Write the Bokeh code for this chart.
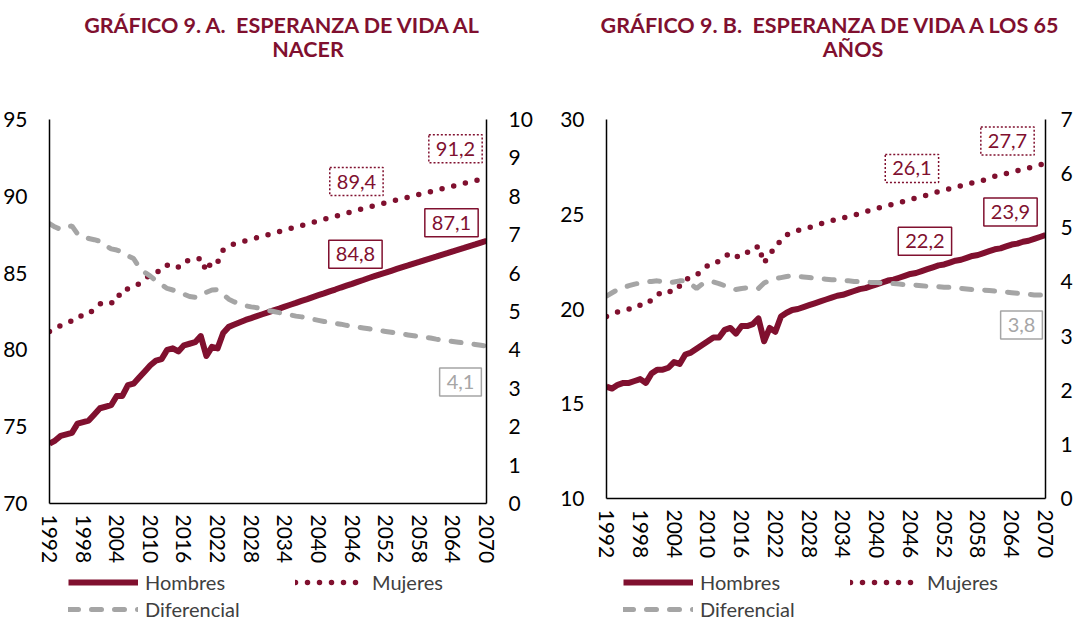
from bokeh.plotting import figure
from bokeh.models import (Range1d, LinearAxis, FixedTicker, Label, Legend,
                          LegendItem, Div, Spacer)
from bokeh.layouts import row, column
from bokeh.embed import file_html
from bokeh.resources import INLINE

# ---------------- data ----------------
YEARS = list(range(1992, 2071))
YEAR_TICKS = [1992, 1998, 2004, 2010, 2016, 2022, 2028, 2034, 2040, 2046,
              2052, 2058, 2064, 2070]

TITLE_A = ["GRÁFICO 9. A.\u00a0 ESPERANZA DE VIDA AL", "NACER"]
TITLE_B = ["GRÁFICO 9. B.\u00a0 ESPERANZA DE VIDA A LOS 65", "AÑOS"]
SERIES_NAMES = ["Hombres", "Mujeres", "Diferencial"]

# Esperanza de vida al nacer
HOMBRES_A = [73.9, 74.1, 74.4, 74.5, 74.6, 75.2, 75.3, 75.4, 75.8, 76.2,
             76.3, 76.4, 77.0, 77.0, 77.7, 77.8, 78.2, 78.6, 79.0, 79.3,
             79.4, 80.0, 80.1, 79.9, 80.3, 80.4, 80.5, 80.9, 79.6, 80.2,
             80.1, 81.1, 81.5, 81.65, 81.8, 81.95, 82.07, 82.2, 82.32, 82.44,
             82.57, 82.69, 82.82, 82.94, 83.06, 83.19, 83.31, 83.44, 83.56, 83.68,
             83.81, 83.93, 84.06, 84.18, 84.3, 84.43, 84.55, 84.68, 84.8, 84.92,
             85.03, 85.15, 85.27, 85.39, 85.5, 85.62, 85.73, 85.85, 85.96, 86.07,
             86.19, 86.3, 86.42, 86.53, 86.64, 86.76, 86.87, 86.99, 87.1]
MUJERES_A = [81.2, 81.3, 81.6, 81.7, 81.9, 82.2, 82.2, 82.3, 82.7, 83.0,
             83.0, 83.0, 83.6, 83.5, 84.0, 84.1, 84.3, 84.6, 84.9, 85.1,
             85.1, 85.5, 85.6, 85.4, 85.8, 85.8, 85.8, 86.0, 85.1, 85.8,
             85.7, 86.5, 86.75, 86.9, 87.0, 87.1, 87.2, 87.3, 87.4, 87.5,
             87.6, 87.7, 87.8, 87.9, 88.0, 88.1, 88.2, 88.3, 88.4, 88.5,
             88.6, 88.7, 88.8, 88.9, 89.0, 89.1, 89.2, 89.3, 89.4, 89.49,
             89.58, 89.67, 89.76, 89.85, 89.94, 90.03, 90.12, 90.21, 90.3, 90.39,
             90.48, 90.57, 90.66, 90.75, 90.84, 90.93, 91.02, 91.11, 91.2]
DIFERENCIAL_A = [7.29, 7.2, 7.14, 7.2, 7.23, 7.02, 6.95, 6.9, 6.87, 6.83,
                 6.72, 6.63, 6.6, 6.55, 6.45, 6.38, 6.15, 6.02, 5.92, 5.8,
                 5.7, 5.6, 5.56, 5.5, 5.45, 5.39, 5.37, 5.4, 5.5, 5.56,
                 5.57, 5.45, 5.32, 5.25, 5.19, 5.15, 5.12, 5.1, 5.06, 5.03,
                 5.0, 4.97, 4.94, 4.91, 4.88, 4.86, 4.83, 4.8, 4.77, 4.74,
                 4.72, 4.69, 4.67, 4.64, 4.62, 4.59, 4.57, 4.55, 4.52, 4.5,
                 4.48, 4.46, 4.43, 4.41, 4.39, 4.37, 4.35, 4.33, 4.31, 4.28,
                 4.26, 4.24, 4.22, 4.2, 4.18, 4.16, 4.14, 4.12, 4.1]

# Esperanza de vida a los 65 años
HOMBRES_B = [15.9, 15.8, 16.0, 16.1, 16.1, 16.2, 16.3, 16.1, 16.6, 16.8,
             16.8, 16.9, 17.2, 17.1, 17.6, 17.7, 17.9, 18.1, 18.3, 18.5,
             18.5, 18.9, 19.0, 18.7, 19.1, 19.1, 19.2, 19.5, 18.3, 19.0,
             18.8, 19.6, 19.8, 19.95, 20.0, 20.1, 20.2, 20.3, 20.4, 20.5,
             20.6, 20.7, 20.75, 20.85, 20.95, 21.05, 21.1, 21.2, 21.3, 21.4,
             21.5, 21.55, 21.65, 21.75, 21.85, 21.9, 22.0, 22.1, 22.2, 22.3,
             22.35, 22.45, 22.55, 22.6, 22.7, 22.8, 22.85, 22.95, 23.05, 23.15,
             23.2, 23.3, 23.4, 23.45, 23.55, 23.6, 23.7, 23.8, 23.9]
MUJERES_B = [19.6, 19.7, 19.85, 19.9, 20.0, 20.2, 20.2, 20.2, 20.5, 20.8,
             20.8, 20.8, 21.2, 21.2, 21.6, 21.6, 21.8, 22.0, 22.3, 22.5,
             22.5, 22.8, 22.9, 22.7, 23.0, 23.0, 23.0, 23.35, 22.4, 23.0,
             23.1, 23.7, 23.9, 24.05, 24.15, 24.2, 24.3, 24.4, 24.5, 24.55,
             24.65, 24.75, 24.8, 24.9, 24.95, 25.05, 25.15, 25.2, 25.3, 25.4,
             25.45, 25.55, 25.6, 25.7, 25.8, 25.85, 25.95, 26.0, 26.1, 26.2,
             26.25, 26.35, 26.4, 26.5, 26.6, 26.65, 26.75, 26.8, 26.9, 27.0,
             27.05, 27.15, 27.2, 27.3, 27.35, 27.45, 27.5, 27.6, 27.7]
DIFERENCIAL_B = [3.74, 3.8, 3.86, 3.9, 3.93, 3.96, 3.98, 4.0, 4.01, 4.02,
                 4.0, 3.98, 4.0, 4.02, 4.02, 3.96, 3.88, 3.96, 4.0, 4.0,
                 3.97, 3.93, 3.89, 3.86, 3.88, 3.89, 3.88, 3.88, 3.98, 4.03,
                 4.06, 4.08, 4.1, 4.11, 4.1, 4.09, 4.08, 4.07, 4.06, 4.05,
                 4.04, 4.04, 4.03, 4.02, 4.01, 4.01, 4.0, 3.99, 3.99, 3.98,
                 3.97, 3.97, 3.96, 3.95, 3.95, 3.94, 3.93, 3.92, 3.92, 3.91,
                 3.9, 3.9, 3.89, 3.88, 3.87, 3.86, 3.86, 3.85, 3.84, 3.83,
                 3.82, 3.81, 3.8, 3.79, 3.78, 3.77, 3.76, 3.76, 3.76]

LEFT_TICKS_A = [70, 75, 80, 85, 90, 95]
RIGHT_TICKS_A = [0, 1, 2, 3, 4, 5, 6, 7, 8, 9, 10]
LEFT_TICKS_B = [10, 15, 20, 25, 30]
RIGHT_TICKS_B = [0, 1, 2, 3, 4, 5, 6, 7]

for s in (HOMBRES_A, MUJERES_A, DIFERENCIAL_A, HOMBRES_B, MUJERES_B, DIFERENCIAL_B):
    assert len(s) == len(YEARS)

# ---------------- style ----------------
MAROON = "#80102F"
GREY = "#A5A5A5"
FONT = "Lato"
TICK_SIZE = "21px"
STYLE_H = dict(line_color=MAROON, line_width=6, line_join="round")
STYLE_W = dict(line_color=MAROON, line_width=5.5, line_dash="0 12", line_cap="round")
STYLE_D = dict(line_color=GREY, line_width=5, line_dash="10 13", line_cap="round")


def fmt(v):
    return f"{v:.1f}".replace(".", ",")


def style_axis(ax, standoff):
    ax.axis_line_color = "black"
    ax.axis_line_width = 1.5
    ax.major_tick_line_color = None
    ax.minor_tick_line_color = None
    ax.major_tick_out = 0
    ax.major_tick_in = 0
    ax.major_label_text_font = FONT
    ax.major_label_text_font_size = TICK_SIZE
    ax.major_label_text_color = "black"
    ax.major_label_standoff = standoff


def make_chart(h, w, d, left_ticks, right_ticks, fw, fh, bl, br, bt,
               right_standoff, labels):
    p = figure(frame_width=fw, frame_height=fh,
               x_range=Range1d(YEARS[0], YEARS[-1]),
               y_range=Range1d(left_ticks[0], left_ticks[-1]),
               output_backend="svg", toolbar_location=None,
               min_border_left=bl, min_border_right=br, min_border_top=bt,
               min_border_bottom=68)
    p.extra_y_ranges = {"right": Range1d(right_ticks[0], right_ticks[-1])}
    p.add_layout(LinearAxis(y_range_name="right"), "right")
    p.xgrid.visible = False
    p.ygrid.visible = False
    p.outline_line_color = None
    p.background_fill_color = "white"
    p.border_fill_color = "white"

    p.xaxis.ticker = FixedTicker(ticks=YEAR_TICKS)
    p.xaxis.major_label_orientation = "vertical"
    style_axis(p.xaxis[0], 11)
    p.yaxis[0].ticker = FixedTicker(ticks=left_ticks)
    style_axis(p.yaxis[0], 22)
    p.yaxis[1].ticker = FixedTicker(ticks=right_ticks)
    style_axis(p.yaxis[1], right_standoff)

    p.line(YEARS, h, **STYLE_H)
    p.line(YEARS, w, **STYLE_W)
    p.line(YEARS, d, y_range_name="right", **STYLE_D)

    series = {"H": (h, MAROON, "solid", "default"),
              "W": (w, MAROON, "2 2", "default"),
              "D": (d, GREY, "solid", "right")}
    for key, year, xo, yo in labels:
        vals, col, dash, rng = series[key]
        v = vals[YEARS.index(year)]
        p.add_layout(Label(x=year, y=v, y_range_name=rng, text=fmt(v),
                           x_offset=xo, y_offset=yo,
                           text_font=FONT, text_font_size="20px",
                           text_color=col if key != "D" else "#A6A6A6",
                           text_align="center", text_baseline="middle",
                           border_line_color=col, border_line_width=1.5,
                           border_line_dash=dash,
                           background_fill_color="white", padding=7))
    return p


def make_legend(width, h, w, d):
    # legend-only strip: the series are drawn outside its (empty) view range
    q = figure(width=width, height=55, x_range=Range1d(0, 1), y_range=Range1d(0, 1),
               x_axis_type=None, y_axis_type=None, output_backend="svg",
               toolbar_location=None, min_border=0)
    q.xgrid.visible = False
    q.ygrid.visible = False
    q.outline_line_color = None
    rh = q.line(YEARS, h, **STYLE_H)
    rw = q.line(YEARS, w, **STYLE_W)
    rd = q.line(YEARS, d, **STYLE_D)
    legend = Legend(items=[LegendItem(label=SERIES_NAMES[0], renderers=[rh]),
                           LegendItem(label=SERIES_NAMES[1], renderers=[rw]),
                           LegendItem(label=SERIES_NAMES[2], renderers=[rd])],
                    orientation="horizontal", ncols=2,
                    location="bottom_left", margin=0, padding=0, spacing=3,
                    glyph_width=70, glyph_height=18, label_height=18,
                    label_width=147, label_standoff=7,
                    label_text_font=FONT, label_text_font_size="20px",
                    label_text_color="#404040",
                    border_line_color=None, background_fill_alpha=0)
    q.add_layout(legend)
    return q


def title_div(lines, width, pads):
    html = (f'<div style="width:{width}px;font-family:Lato;font-weight:bold;'
            'font-size:21.5px;color:#80102F;line-height:24px;padding-top:13px;">'
            f'<div style="text-align:center;padding-left:{pads[0]}px">{lines[0]}</div>'
            f'<div style="text-align:center;padding-left:{pads[1]}px">{lines[1]}</div>'
            '</div>')
    return Div(text=html, width=width, height=70, margin=0)


labels_a = [("W", 2070, -31, 29), ("W", 2050, -18, 24),
            ("H", 2070, -35, 18), ("H", 2050, -19, 22),
            ("D", 2070, -26, -36)]
labels_b = [("W", 2070, -38, 22), ("W", 2050, -21, 25),
            ("H", 2070, -35, 23), ("H", 2050, -8, 26),
            ("D", 2070, -24, -30)]

pa = make_chart(HOMBRES_A, MUJERES_A, DIFERENCIAL_A, LEFT_TICKS_A, RIGHT_TICKS_A,
                437, 384, 49, 50, 44, 22, labels_a)
pb = make_chart(HOMBRES_B, MUJERES_B, DIFERENCIAL_B, LEFT_TICKS_B, RIGHT_TICKS_B,
                439, 379, 70, 30, 49, 15, labels_b)

LEG_OFF_A, LEG_OFF_B = 68, 87
la = make_legend(536 - LEG_OFF_A, HOMBRES_A, MUJERES_A, DIFERENCIAL_A)
lb = make_legend(539 - LEG_OFF_B, HOMBRES_B, MUJERES_B, DIFERENCIAL_B)

da = title_div(TITLE_A, 536, (27, 80))
db = title_div(TITLE_B, 539, (48, 95))

layout = column(row(da, db), row(pa, pb),
                row(Spacer(width=LEG_OFF_A, height=55), la,
                    Spacer(width=LEG_OFF_B, height=55), lb))

with open("out.html", "w") as f:
    f.write(file_html(layout, INLINE))
